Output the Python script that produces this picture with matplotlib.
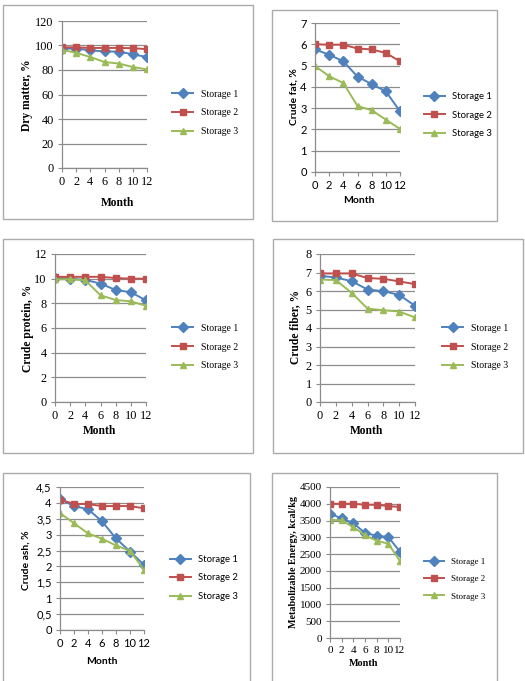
import matplotlib
matplotlib.use("Agg")
import matplotlib.pyplot as plt
from matplotlib.patches import Rectangle

W, H = 525, 681

# months
months = [0, 2, 4, 6, 8, 10, 12]
series_names = ["Storage 1", "Storage 2", "Storage 3"]

# values
dry_matter_s1 = [97.5, 97.5, 96, 95.2, 95, 92.8, 90.6]
dry_matter_s2 = [98.5, 98.5, 98, 98, 98, 97.8, 97]
dry_matter_s3 = [96.5, 94, 90.6, 86.5, 85.3, 82.4, 80.5]

crude_fat_s1 = [5.76, 5.51, 5.2, 4.48, 4.13, 3.79, 2.85]
crude_fat_s2 = [6.0, 5.98, 5.98, 5.8, 5.76, 5.59, 5.2]
crude_fat_s3 = [4.98, 4.5, 4.18, 3.1, 2.9, 2.46, 2.02]

crude_protein_s1 = [10.08, 10.0, 9.9, 9.6, 9.08, 8.9, 8.24]
crude_protein_s2 = [10.15, 10.15, 10.15, 10.15, 10.05, 10.0, 10.0]
crude_protein_s3 = [9.95, 9.95, 9.87, 8.65, 8.27, 8.16, 7.8]

crude_fiber_s1 = [6.82, 6.73, 6.53, 6.08, 5.99, 5.79, 5.2]
crude_fiber_s2 = [6.95, 6.95, 6.95, 6.7, 6.66, 6.52, 6.37]
crude_fiber_s3 = [6.62, 6.59, 5.9, 5.05, 4.96, 4.89, 4.57]

crude_ash_s1 = [4.12, 3.9, 3.8, 3.42, 2.88, 2.47, 2.05]
crude_ash_s2 = [4.1, 3.97, 3.96, 3.9, 3.9, 3.9, 3.83]
crude_ash_s3 = [3.68, 3.36, 3.04, 2.87, 2.66, 2.49, 1.89]

energy_s1 = [3705, 3565, 3426, 3128, 3049, 3009, 2572]
energy_s2 = [4002, 4002, 4002, 3972, 3972, 3932, 3903]
energy_s3 = [3525, 3505, 3307, 3059, 2900, 2810, 2294]

colors = ["#4F81BD", "#C0504D", "#9BBB59"]
markers = ["D", "s", "^"]
msizes = [5, 4.5, 4.5]

SERIF = "Liberation Serif"
SANS = "Lato"


def fx(x):
    return x / W


def fy(y):
    return 1 - y / H


fig = plt.figure(figsize=(W / 100, H / 100), dpi=100)
fig.patch.set_facecolor("white")


def border(x0, y0, x1, y1):
    fig.add_artist(Rectangle((fx(x0), fy(y1)), fx(x1) - fx(x0), fy(y0) - fy(y1),
                             transform=fig.transFigure, fill=False,
                             edgecolor="#ABABAB", linewidth=1.0))


def panel(box, data, ymax, ystep, ylabel, ylabel_xy, month_xy, leg_xy, family,
          yfmt=None, tick_fs=8.8, label_fs=8.3, leg_fs=7.0):
    x0, y0, x1, y1 = box
    ax = fig.add_axes([fx(x0), fy(y1), fx(x1) - fx(x0), fy(y0) - fy(y1)])
    for vals, c, m, ms, name in zip(data, colors, markers, msizes, series_names):
        ax.plot(months, vals, color=c, marker=m, markersize=ms, linewidth=1.4,
                label=name)
    ax.set_xlim(0, 12)
    ax.set_ylim(0, ymax)
    ticks = [i * ystep for i in range(int(round(ymax / ystep)) + 1)]
    ax.set_yticks(ticks)
    if yfmt:
        ax.set_yticklabels([yfmt(t) for t in ticks])
    ax.set_xticks(months)
    ax.grid(axis="y", color="#8C8C8C", linewidth=0.9)
    ax.set_axisbelow(True)
    for s in ["top", "right"]:
        ax.spines[s].set_visible(False)
    for s in ["left", "bottom"]:
        ax.spines[s].set_color("#8C8C8C")
        ax.spines[s].set_linewidth(0.9)
    ax.tick_params(length=3, width=0.8, color="#8C8C8C", pad=3, labelsize=tick_fs)
    for lab in ax.get_xticklabels() + ax.get_yticklabels():
        lab.set_family(family)
    fig.text(fx(ylabel_xy[0]), fy(ylabel_xy[1]), ylabel, rotation=90,
             ha="center", va="center", fontsize=label_fs, fontweight="bold",
             family=family)
    fig.text(fx(month_xy[0]), fy(month_xy[1]), "Month", ha="center", va="center",
             fontsize=label_fs, fontweight="bold", family=family)
    ax.legend(loc="center left", bbox_to_anchor=(fx(leg_xy[0]), fy(leg_xy[1])),
              bbox_transform=fig.transFigure, frameon=False,
              prop={"family": family, "size": leg_fs}, handlelength=2.2,
              handletextpad=0.8, labelspacing=1.0, borderpad=0, borderaxespad=0)
    return ax


def comma(t):
    s = ("%g" % t)
    return s.replace(".", ",")


border(3, 5, 253, 219)
border(272, 10, 497, 221)
border(3, 239, 253, 453)
border(273, 239, 523, 453)
border(3, 473, 250, 685)
border(272, 473, 497, 685)

panel((62, 21, 147, 168), [dry_matter_s1, dry_matter_s2, dry_matter_s3], 120, 20,
      "Dry matter, %", (27, 95), (118, 203), (172, 113), SERIF)
panel((315, 23, 400, 172), [crude_fat_s1, crude_fat_s2, crude_fat_s3], 7, 1,
      "Crude fat, %", (294, 97), (359, 200), (424, 115), SANS,
      tick_fs=8, label_fs=7.5, leg_fs=6.8)
panel((55, 254, 146, 402), [crude_protein_s1, crude_protein_s2, crude_protein_s3], 12, 2,
      "Crude protein, %", (28, 328), (100, 431), (172, 347), SERIF)
panel((320, 254, 415, 402), [crude_fiber_s1, crude_fiber_s2, crude_fiber_s3], 8, 1,
      "Crude fiber, %", (295, 327), (367, 431), (442, 347), SERIF)
panel((60, 487, 144, 630), [crude_ash_s1, crude_ash_s2, crude_ash_s3], 4.5, 0.5,
      "Crude ash, %", (26, 560), (102, 661), (170, 578), SANS, yfmt=comma,
      tick_fs=8, label_fs=7.5, leg_fs=6.8)
panel((330, 487, 400, 638), [energy_s1, energy_s2, energy_s3], 4500, 500,
      "Metabolizable Energy, kcal/kg", (294, 562), (364, 663), (424, 579), SERIF,
      tick_fs=8, label_fs=7.3, leg_fs=6.5)

fig.savefig("out.png", dpi=100)
